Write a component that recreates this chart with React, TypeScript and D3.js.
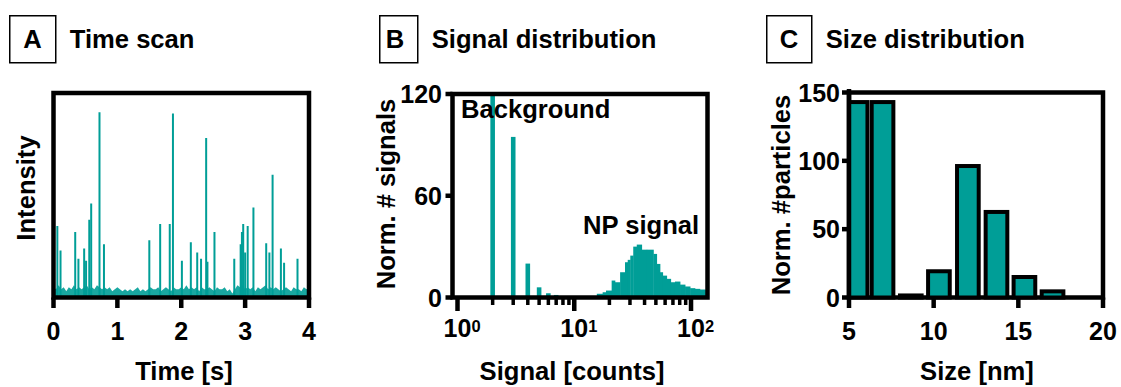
import React from "react";
import * as d3 from "d3";

const teal = "#009E97";
const font = "'Liberation Sans', Arial, Helvetica, sans-serif";

// Panel A: time scan
const timeTicks = [0, 1, 2, 3, 4];
const spikeTimes = [0.06, 0.11, 0.34, 0.39, 0.48, 0.51, 0.56, 0.59, 0.72, 0.79, 1.5, 1.67, 1.82, 1.87, 2.01, 2.15, 2.25, 2.31, 2.39, 2.41, 2.52, 2.83, 2.93, 2.95, 2.97, 3.0, 3.04, 3.13, 3.33, 3.38, 3.43, 3.56, 3.61, 3.82];
const spikeHeights = [35, 23, 32, 19, 24, 18, 38, 46, 90.6, 26, 28, 36, 36, 90, 18, 27, 22, 19, 78, 17.5, 32, 19, 26, 32, 36, 22, 35, 44, 26.5, 22, 60, 24, 17, 19];
const noiseStep = 0.04;
const noise = [
  5, 4, 6, 4, 5, 3, 5, 4, 6, 4,
  5, 4, 5, 6, 4, 5, 4, 6, 5, 4,
  5, 4, 5, 3, 4, 5, 4, 3, 4, 3,
  4, 3, 4, 5, 3, 4, 3, 4, 5, 4,
  4, 5, 3, 4, 5, 4, 3, 5, 4, 4,
  5, 4, 6, 4, 5, 4, 5, 3, 5, 4,
  4, 5, 4, 3, 5, 4, 4, 5, 3, 4,
  2, 4, 6, 5, 6, 4, 5, 4, 5, 3,
  5, 4, 5, 6, 4, 5, 4, 5, 4, 3,
  4, 5, 4, 3, 5, 4, 4, 3, 5, 4,
  5,
];

// Panel B: signal distribution
const bgCounts = [2, 3, 4, 5, 6, 7];
const bgHeights = [120, 94.7, 20, 6, 2.5, 1.5];
const npEdges = [15.6, 17.5, 18.7, 20.9, 22.3, 24.7, 27.2, 28.7, 30.2, 32.0, 34.3, 37.8, 41.8, 47.6, 50.8, 54.2, 57.2, 61.9, 67.0, 72.9, 80.5, 88.9, 98.2, 108, 119, 132, 145];
const npHeights = [2.2, 3.1, 4.1, 10, 9, 14.9, 20.8, 22.2, 24.7, 30, 31.2, 28.2, 28.2, 25.7, 19.8, 14.9, 12.9, 11, 9, 9.4, 7.6, 6.5, 5.5, 5.1, 4.7, 4.5];
const signalTicksY = [0, 60, 120];
const signalMajor = [1, 10, 100];
const signalExp = ["0", "1", "2"];
const signalMinor = [2, 3, 4, 5, 6, 7, 8, 9, 20, 30, 40, 50, 60, 70, 80, 90];

// Panel C: size distribution
const sizeCenters = [5.45, 6.98, 8.65, 10.31, 12.02, 13.71, 15.36, 17.02];
const sizeHeights = [143, 143, 1.5, 19.2, 96.2, 62.6, 15, 4.5];
const sizeTicksX = [5, 10, 15, 20];
const sizeTicksY = [0, 50, 100, 150];

const frameW = 4.5;
const top = 93;
const bottom = 297.5;
const tickFs = 25;
const titleFs = 25.6;

function LabelBox({ x, w, letter, lx, title }: { x: number; w: number; letter: string; lx: number; title: string }) {
  return (
    <g fontFamily={font} fontWeight="bold" fontSize={titleFs}>
      <rect x={x} y={15.75} width={w} height={47} fill="none" stroke="#000" strokeWidth={1.5} />
      <text x={lx} y={48} textAnchor="middle">{letter}</text>
      <text x={x + w + 14} y={48}>{title}</text>
    </g>
  );
}

function PanelA() {
  const x = d3.scaleLinear().domain([0, 4]).range([53.5, 309]);
  const y = d3.scaleLinear().domain([0, 100]).range([bottom, top]);
  const area = d3.area<number>()
    .x((d, i) => x(i * noiseStep))
    .y0(y(0))
    .y1((d) => y(d));
  return (
    <g>
      <defs>
        <clipPath id="clipA">
          <rect x={x(0)} y={top} width={x(4) - x(0)} height={bottom - top} />
        </clipPath>
      </defs>
      <g clipPath="url(#clipA)">
        <path d={area(noise) || ""} fill={teal} opacity={0.9} />
        {spikeTimes.map((t, i) => (
          <line key={i} x1={x(t)} x2={x(t)} y1={y(0)} y2={y(spikeHeights[i])} stroke={teal} strokeWidth={2} />
        ))}
      </g>
      <rect x={x(0)} y={top} width={x(4) - x(0)} height={bottom - top} fill="none" stroke="#000" strokeWidth={frameW} />
      {timeTicks.map((t) => (
        <g key={t}>
          <line x1={x(t)} x2={x(t)} y1={bottom} y2={308} stroke="#000" strokeWidth={4.5} />
          <text x={x(t)} y={340} textAnchor="middle" fontFamily={font} fontWeight="bold" fontSize={tickFs}>{t}</text>
        </g>
      ))}
      <text x={184} y={380} textAnchor="middle" fontFamily={font} fontWeight="bold" fontSize={titleFs}>Time [s]</text>
      <text transform="translate(35,188) rotate(-90)" textAnchor="middle" fontFamily={font} fontWeight="bold" fontSize={titleFs}>Intensity</text>
    </g>
  );
}

function PanelB() {
  const left = 452.5, right = 707.5;
  const x = d3.scaleLog().domain([0.906, 138.4]).range([left, right]);
  const y = d3.scaleLinear().domain([0, 120]).range([bottom, 94]);
  return (
    <g>
      <defs>
        <clipPath id="clipB">
          <rect x={left} y={94} width={right - left} height={bottom - 94} />
        </clipPath>
      </defs>
      <g clipPath="url(#clipB)">
        {bgCounts.map((c, i) => (
          <rect key={c} x={x(c) - 2.3} width={4.6} y={y(bgHeights[i])} height={y(0) - y(bgHeights[i])} fill={teal} />
        ))}
        {npHeights.map((h, i) => (
          <rect key={i} x={x(npEdges[i])} width={x(npEdges[i + 1]) - x(npEdges[i]) + 0.4} y={y(h)} height={y(0) - y(h)} fill={teal} />
        ))}
      </g>
      <rect x={left} y={94} width={right - left} height={bottom - 94} fill="none" stroke="#000" strokeWidth={frameW} />
      {signalMinor.map((v) => (
        <line key={v} x1={x(v)} x2={x(v)} y1={bottom} y2={305} stroke="#000" strokeWidth={3.5} />
      ))}
      {signalMajor.map((v, i) => (
        <g key={v} fontFamily={font} fontWeight="bold">
          <line x1={x(v)} x2={x(v)} y1={bottom} y2={311} stroke="#000" strokeWidth={4.5} />
          <text x={x(v)} y={337} textAnchor="middle" fontSize={tickFs}>10</text>
          <text x={x(v) + 14} y={332} fontSize={16.5}>{signalExp[i]}</text>
        </g>
      ))}
      {signalTicksY.map((v) => (
        <g key={v}>
          <line x1={left - 7} x2={left} y1={y(v)} y2={y(v)} stroke="#000" strokeWidth={4.5} />
          <text x={442} y={y(v)} dy="0.36em" textAnchor="end" fontFamily={font} fontWeight="bold" fontSize={tickFs}>{v}</text>
        </g>
      ))}
      <text x={461} y={118} fontFamily={font} fontWeight="bold" fontSize={titleFs}>Background</text>
      <text x={583} y={234} fontFamily={font} fontWeight="bold" fontSize={titleFs}>NP signal</text>
      <text x={572} y={380} textAnchor="middle" fontFamily={font} fontWeight="bold" fontSize={titleFs}>Signal [counts]</text>
      <text transform="translate(395,194) rotate(-90)" textAnchor="middle" fontFamily={font} fontWeight="bold" fontSize={titleFs}>Norm. # signals</text>
    </g>
  );
}

function PanelC() {
  const left = 849, right = 1103;
  const x = d3.scaleLinear().domain([5, 20]).range([left, right]);
  const y = d3.scaleLinear().domain([0, 150]).range([bottom, 92.5]);
  const hw = 0.64;
  return (
    <g>
      <defs>
        <clipPath id="clipC">
          <rect x={left} y={80} width={right - left} height={bottom - 80 + 4} />
        </clipPath>
      </defs>
      <rect x={left} y={92.5} width={right - left} height={bottom - 92.5} fill="none" stroke="#000" strokeWidth={frameW} />
      <g clipPath="url(#clipC)">
        {sizeCenters.map((c, i) => (
          <rect key={i} x={x(c - hw)} width={x(c + hw) - x(c - hw)} y={y(sizeHeights[i])} height={Math.max(y(0) - y(sizeHeights[i]), 0)} fill={teal} stroke="#000" strokeWidth={4} />
        ))}
      </g>
      <line x1={left} x2={left} y1={89} y2={bottom} stroke="#000" strokeWidth={frameW} />
      {sizeTicksX.map((v) => (
        <g key={v}>
          <line x1={x(v)} x2={x(v)} y1={bottom} y2={308} stroke="#000" strokeWidth={4.5} />
          <text x={x(v)} y={340} textAnchor="middle" fontFamily={font} fontWeight="bold" fontSize={tickFs}>{v}</text>
        </g>
      ))}
      {sizeTicksY.map((v) => (
        <g key={v}>
          <line x1={left - 7} x2={left} y1={y(v)} y2={y(v)} stroke="#000" strokeWidth={4.5} />
          <text x={840} y={y(v)} dy="0.36em" textAnchor="end" fontFamily={font} fontWeight="bold" fontSize={tickFs}>{v}</text>
        </g>
      ))}
      <text x={977} y={380} textAnchor="middle" fontFamily={font} fontWeight="bold" fontSize={titleFs}>Size [nm]</text>
      <text transform="translate(790,195) rotate(-90)" textAnchor="middle" fontFamily={font} fontWeight="bold" fontSize={titleFs}>Norm. #particles</text>
    </g>
  );
}

export default function App() {
  return (
    <svg width={1121} height={387} style={{ position: "absolute", left: 0, top: 0, background: "#fff" }}>
      <rect width={1121} height={387} fill="#fff" />
      <LabelBox x={9.75} w={46} letter="A" lx={32.5} title="Time scan" />
      <LabelBox x={379.75} w={38} letter="B" lx={395} title="Signal distribution" />
      <LabelBox x={766.75} w={45} letter="C" lx={789} title="Size distribution" />
      <PanelA />
      <PanelB />
      <PanelC />
    </svg>
  );
}
